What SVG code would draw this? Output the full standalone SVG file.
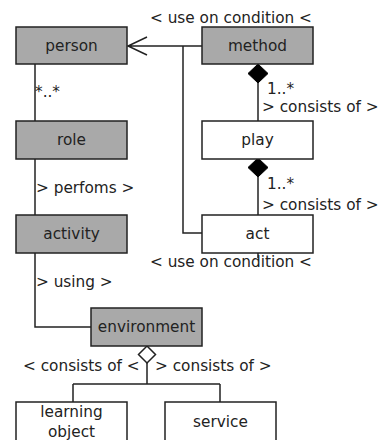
<svg xmlns="http://www.w3.org/2000/svg" width="384" height="440" viewBox="0 0 384 440">
<style>
.g{fill:#a9a9a9;stroke:#222;stroke-width:1.5}
.w{fill:#fff;stroke:#222;stroke-width:1.5}
.t{font-family:"DejaVu Sans",sans-serif;font-size:15.3px;fill:#222}
.c{text-anchor:middle}
.l{fill:none;stroke:#222;stroke-width:1.5}
</style>
<rect width="384" height="440" fill="#fff"/>
<g id="connectors">
<path class="l" d="M35 64V121"/>
<path class="l" d="M35 159V215"/>
<path class="l" d="M35 253V327H91"/>
<path class="l" d="M202 46H128M147 37L128 46L147 55"/>
<path class="l" d="M183 46V233H202"/>
<path class="l" d="M258 83V121"/>
<path d="M258 64L268 73.5L258 83L248 73.5Z" fill="#000" stroke="#000"/>
<path class="l" d="M258 177V215"/>
<path d="M258 158L268 167.5L258 177L248 167.5Z" fill="#000" stroke="#000"/>
<path class="l" d="M258 253V258"/>
<path class="l" d="M147 363V384M73 384H220M73 384V402M220 384V402"/>
<path d="M147 346L155.5 354.5L147 363L138.5 354.5Z" fill="#fff" stroke="#222" stroke-width="1.5"/>
<text class="t" x="150" y="23">&lt; use on condition &lt;</text>
<text class="t" x="150" y="267">&lt; use on condition &lt;</text>
<text class="t" x="35" y="97">*..*</text>
<text class="t" x="36" y="193">&gt; perfoms &gt;</text>
<text class="t" x="36" y="287">&gt; using &gt;</text>
<text class="t" x="267" y="94">1..*</text>
<text class="t" x="262" y="112">&gt; consists of &gt;</text>
<text class="t" x="267" y="189">1..*</text>
<text class="t" x="262" y="210">&gt; consists of &gt;</text>
<text class="t" x="23" y="371">&lt; consists of &lt;</text>
<text class="t" x="155" y="371">&gt; consists of &gt;</text>
</g>
<g id="person"><rect class="g" x="16" y="27" width="111" height="37"/><text class="t c" x="71.5" y="51">person</text></g>
<g id="method"><rect class="g" x="202" y="27" width="111" height="37"/><text class="t c" x="257.5" y="51">method</text></g>
<g id="role"><rect class="g" x="16" y="121" width="111" height="38"/><text class="t c" x="71.5" y="145">role</text></g>
<g id="play"><rect class="w" x="202" y="121" width="111" height="38"/><text class="t c" x="257.5" y="145">play</text></g>
<g id="activity"><rect class="g" x="16" y="215" width="111" height="38"/><text class="t c" x="71.5" y="239">activity</text></g>
<g id="act"><rect class="w" x="202" y="215" width="111" height="38"/><text class="t c" x="257.5" y="239">act</text></g>
<g id="environment"><rect class="g" x="91" y="308" width="111" height="38"/><text class="t c" x="146.5" y="332">environment</text></g>
<g id="learning-object"><rect class="w" x="16" y="402" width="111" height="45"/><text class="t c" x="71.5" y="417">learning</text><text class="t c" x="71.5" y="437">object</text></g>
<g id="service"><rect class="w" x="165" y="402" width="111" height="45"/><text class="t c" x="220.5" y="427">service</text></g>
</svg>
